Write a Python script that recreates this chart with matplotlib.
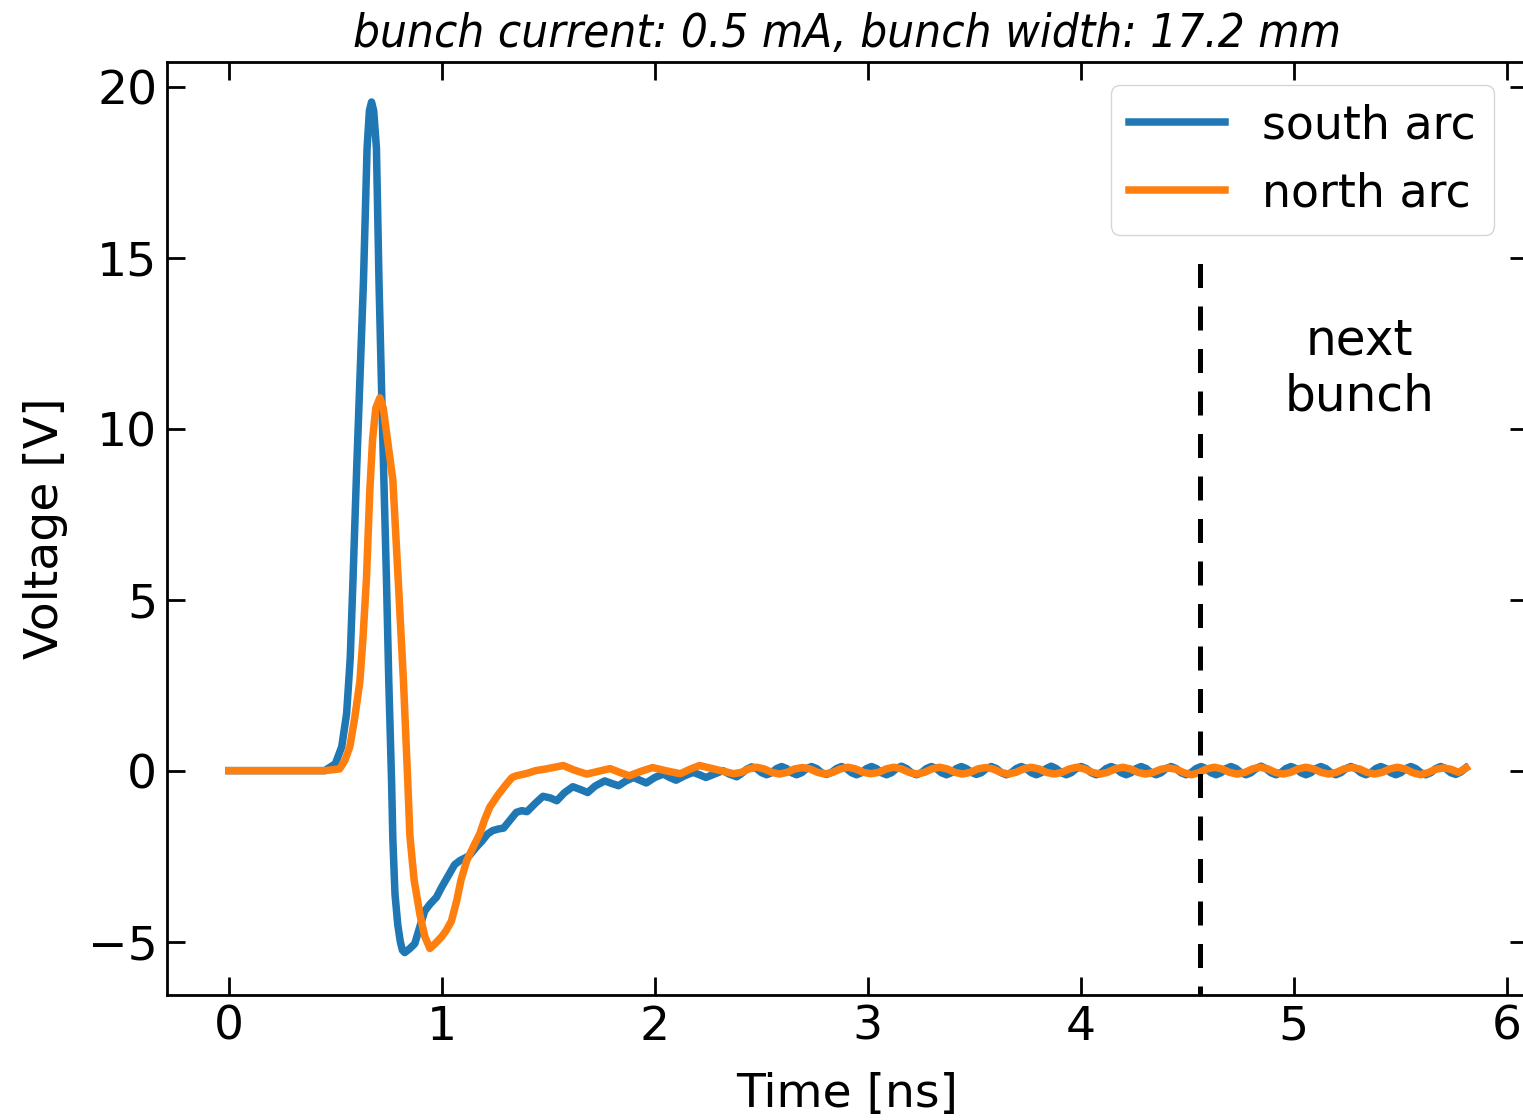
import numpy as np
import matplotlib
matplotlib.use('Agg')
import matplotlib.pyplot as plt

# south arc: pulse and settling
south_t = [0.00, 0.45, 0.50, 0.53, 0.553, 0.57, 0.583, 0.60, 0.615, 0.632, 0.649, 0.66,
           0.67, 0.68, 0.693, 0.705, 0.72, 0.728, 0.74, 0.751, 0.764, 0.77, 0.78, 0.793,
           0.805, 0.815, 0.826, 0.85, 0.873, 0.895, 0.92, 0.945, 0.975, 1.00, 1.037, 1.06,
           1.085, 1.11, 1.13, 1.16, 1.19, 1.215, 1.24, 1.27, 1.29, 1.32, 1.35, 1.375,
           1.40, 1.44, 1.475, 1.51, 1.54, 1.575, 1.615, 1.65, 1.685, 1.72, 1.765, 1.80,
           1.83, 1.865, 1.90, 1.93, 1.96, 2.00, 2.04, 2.07, 2.10, 2.14, 2.18, 2.21,
           2.24, 2.28, 2.32, 2.35, 2.385]
south_v = [0.0, 0.0, 0.2, 0.7, 1.67, 3.3, 5.6, 8.8, 11.4, 14.3, 18.2, 19.3,
           19.55, 19.3, 18.2, 14.3, 10.4, 8.5, 5.6, 2.6, -0.3, -2.0, -3.6, -4.5,
           -5.0, -5.25, -5.32, -5.2, -5.06, -4.6, -4.1, -3.9, -3.7, -3.4, -3.0, -2.75,
           -2.63, -2.55, -2.48, -2.25, -2.05, -1.85, -1.75, -1.7, -1.68, -1.45, -1.22, -1.17,
           -1.2, -0.95, -0.75, -0.8, -0.88, -0.65, -0.47, -0.55, -0.64, -0.45, -0.3, -0.38,
           -0.44, -0.3, -0.2, -0.28, -0.36, -0.2, -0.1, -0.2, -0.28, -0.15, -0.05, -0.12,
           -0.2, -0.1, 0.0, -0.1, -0.18]
# south arc ripple after 2.4 ns (period about 0.14 ns)
south_tail_t = np.linspace(2.408, 5.808, 146)
south_tail_v = [-0.08, 0.04, 0.11, 0.06, -0.06, -0.12, -0.06, 0.06, 0.12, 0.06, -0.06, -0.12,
                -0.06, 0.06, 0.12, 0.06, -0.06, -0.11, -0.05, 0.06, 0.12, 0.06, -0.06, -0.12,
                -0.06, 0.06, 0.12, 0.06, -0.06, -0.12, -0.06, 0.06, 0.13, 0.06, -0.06, -0.12,
                -0.06, 0.06, 0.12, 0.06, -0.06, -0.12, -0.06, 0.06, 0.12, 0.06, -0.05, -0.11,
                -0.06, 0.06, 0.12, 0.06, -0.06, -0.12, -0.06, 0.06, 0.12, 0.06, -0.06, -0.12,
                -0.06, 0.06, 0.13, 0.06, -0.06, -0.12, -0.06, 0.06, 0.12, 0.06, -0.06, -0.12,
                -0.06, 0.06, 0.12, 0.06, -0.06, -0.12, -0.06, 0.06, 0.12, 0.06, -0.06, -0.12,
                -0.06, 0.06, 0.12, 0.06, -0.06, -0.12, -0.06, 0.06, 0.12, 0.06, -0.06, -0.12,
                -0.06, 0.06, 0.12, 0.06, -0.06, -0.12, -0.06, 0.06, 0.13, 0.06, -0.06, -0.12,
                -0.06, 0.06, 0.12, 0.06, -0.06, -0.12, -0.06, 0.06, 0.12, 0.06, -0.06, -0.12,
                -0.06, 0.06, 0.12, 0.06, -0.06, -0.12, -0.06, 0.06, 0.12, 0.06, -0.06, -0.12,
                -0.06, 0.06, 0.12, 0.06, -0.06, -0.12, -0.06, 0.06, 0.12, 0.06, -0.06, -0.11,
                -0.04, 0.08]

# north arc
north_t = [0.00, 0.45, 0.52, 0.545, 0.568, 0.59, 0.615, 0.63, 0.646, 0.662, 0.675, 0.69,
           0.709, 0.725, 0.74, 0.77, 0.795, 0.82, 0.84, 0.85, 0.87, 0.897, 0.92, 0.944,
           0.97, 1.00, 1.02, 1.045, 1.07, 1.09, 1.117, 1.15, 1.178, 1.20, 1.225, 1.265,
           1.305, 1.33, 1.35, 1.40, 1.44, 1.49, 1.53, 1.57, 1.62, 1.68, 1.735, 1.79,
           1.835, 1.88, 1.935, 1.99, 2.05, 2.12, 2.165, 2.21, 2.29, 2.37]
north_v = [0.0, 0.0, 0.05, 0.3, 0.7, 1.5, 2.6, 3.9, 5.6, 8.2, 9.7, 10.6,
           10.9, 10.6, 9.9, 8.5, 5.6, 2.6, -0.3, -1.9, -3.2, -4.2, -4.85, -5.2,
           -5.05, -4.85, -4.68, -4.4, -3.8, -3.2, -2.63, -2.2, -1.85, -1.45, -1.07, -0.7,
           -0.38, -0.2, -0.15, -0.08, 0.0, 0.05, 0.1, 0.15, 0.02, -0.1, -0.02, 0.06,
           -0.05, -0.15, -0.02, 0.09, 0.0, -0.09, 0.04, 0.15, 0.03, -0.09]
# north arc ripple after 2.4 ns (period about 0.215 ns)
north_tail_t = np.linspace(2.406, 5.81, 96)
north_tail_v = [-0.05, 0.05, 0.10, 0.05, -0.05, -0.10, -0.05, 0.05, 0.09, 0.05, -0.05, -0.10,
                -0.05, 0.05, 0.10, 0.05, -0.05, -0.09, -0.05, 0.05, 0.10, 0.05, -0.05, -0.10,
                -0.05, 0.05, 0.10, 0.05, -0.05, -0.10, -0.05, 0.05, 0.09, 0.05, -0.05, -0.10,
                -0.05, 0.05, 0.10, 0.05, -0.05, -0.10, -0.05, 0.05, 0.10, 0.05, -0.05, -0.10,
                -0.05, 0.05, 0.10, 0.05, -0.05, -0.10, -0.05, 0.04, 0.08, 0.04, -0.06, -0.12,
                -0.06, 0.05, 0.10, 0.05, -0.05, -0.10, -0.05, 0.05, 0.10, 0.05, -0.05, -0.10,
                -0.05, 0.05, 0.10, 0.05, -0.05, -0.10, -0.05, 0.05, 0.09, 0.05, -0.05, -0.10,
                -0.05, 0.05, 0.10, 0.05, -0.06, -0.12, -0.06, 0.04, 0.08, 0.04, -0.05, 0.08]

next_bunch_t = 4.56

plt.rcParams['font.family'] = 'DejaVu Sans'
fig = plt.figure(figsize=(15.23, 11.2), dpi=100)
# right spine sits just past the image edge, as in the original crop
ax = fig.add_axes([167 / 1523, 125 / 1120, 1361 / 1523, 933 / 1120])

ax.plot(list(south_t) + list(south_tail_t), south_v + south_tail_v, color='#1f77b4', lw=5.4, label='south arc')
ax.plot(list(north_t) + list(north_tail_t), north_v + north_tail_v, color='#ff7f0e', lw=5.4, label='north arc')
ax.vlines(next_bunch_t, -7, 15, colors='k', linestyles=(0, (4.8, 3.7)), lw=3.6)
ax.text(5.31, 11.75, 'next\nbunch', fontsize=35, ha='center', va='center', multialignment='center')

ax.set_xlim(-0.2905, 6.1005)
ax.set_ylim(-6.56, 20.72)
ax.set_xticks([0, 1, 2, 3, 4, 5, 6])
ax.set_yticks([-5, 0, 5, 10, 15, 20])
ax.tick_params(direction='in', top=True, right=True, length=13, width=2, labelsize=34, pad=7)
for s in ax.spines.values():
    s.set_linewidth(2)

ax.set_xlabel('Time [ns]', fontsize=34, labelpad=16)
ax.set_ylabel('Voltage [V]', fontsize=34, labelpad=14)
ax.set_title('bunch current: 0.5 mA, bunch width: 17.2 mm', fontsize=34, style='italic',
             fontstretch='condensed', pad=11)
ax.legend(loc='upper right', fontsize=33, handlelength=2.1, fancybox=True,
          bbox_to_anchor=(0.992, 1.0))

fig.savefig('out.png', dpi=100)
